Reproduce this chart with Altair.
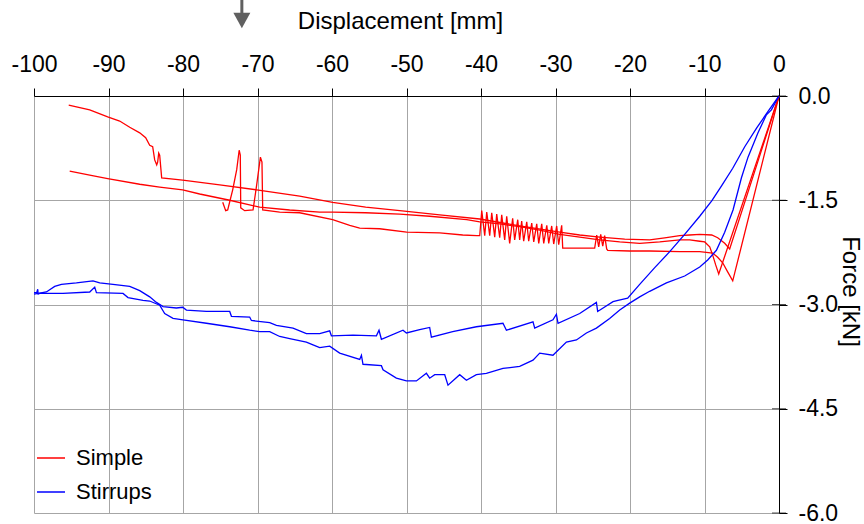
import altair as alt
import pandas as pd

# ---- Simple specimens: displacement [mm] and force [kN] ----
simple_a_disp = [0, -6.62, -7.29, -8.23, -9.03, -10.64, -11.99, -13.33, -15.34, -17.36, -20.71,
                 -24.07, -26.75, -29.44, -34.81, -40.17, -45.54, -50.91, -55.48, -59.91, -64.34,
                 -70.11, -75.07, -80.04, -82.86, -83.13, -83.26, -83.40, -83.53, -83.80, -84.07,
                 -84.47, -85.01, -85.81, -87.15, -88.50, -90.11, -92.52, -95.34]
simple_a_force = [0, -2.20, -2.12, -2.04, -2.00, -1.99, -2.00, -2.01, -2.04, -2.07, -2.06,
                  -2.03, -2.00, -1.96, -1.87, -1.77, -1.71, -1.65, -1.60, -1.53, -1.44,
                  -1.35, -1.28, -1.21, -1.18, -0.85, -0.82, -0.95, -0.99, -0.92, -0.73,
                  -0.71, -0.60, -0.53, -0.45, -0.36, -0.30, -0.20, -0.13]

simple_b_disp = [0, -8.09, -8.50, -8.90, -9.30, -9.97, -10.64, -11.99, -13.33, -16.01, -18.70,
                 -21.38, -24.07, -26.75, -29.44, -32.12, -34.81, -37.49, -40.17, -41.92, -46.89,
                 -50.91, -55.48, -59.91, -61.65, -65.68, -69.71, -73.73, -77.76, -80.04, -83.13,
                 -85.81, -90.11, -92.52, -95.21]
simple_b_force = [0, -2.56, -2.43, -2.29, -2.17, -2.10, -2.09, -2.07, -2.07, -2.10, -2.12,
                  -2.10, -2.07, -2.03, -1.99, -1.93, -1.88, -1.84, -1.81, -1.78, -1.73,
                  -1.70, -1.68, -1.67, -1.67, -1.64, -1.60, -1.50, -1.41, -1.35, -1.31,
                  -1.27, -1.19, -1.14, -1.08]

simple_c_disp = [0, -6.21, -6.89, -7.56, -8.23, -8.90, -10.64, -13.33, -17.36, -20.05, -22.99,
                 -23.13, -23.40, -23.66, -23.93, -24.20, -24.47, -24.74, -26.75, -29.03,
                 -29.17, -29.57, -29.84, -30.24, -30.51, -30.91, -31.17, -31.58, -31.85, -32.25,
                 -32.52, -32.92, -33.19, -33.60, -33.86, -34.27, -34.54, -34.81, -35.07, -35.48,
                 -35.75, -36.15, -36.55, -36.82, -37.22, -37.49, -37.89, -38.16, -38.56, -38.83,
                 -39.23, -39.50, -39.90, -40.17,
                 -40.58, -42.45, -45.54, -49.97, -53.60, -56.28, -57.62, -59.91, -64.34, -67.02,
                 -69.30, -69.40, -69.61, -70.11, -70.60, -71.72, -72.25, -72.31, -72.46, -72.79,
                 -73.33, -74.00, -74.27, -74.67]
simple_c_force = [0, -2.66, -2.53, -2.40, -2.32, -2.26, -2.24, -2.24, -2.23, -2.23, -2.22,
                  -2.20, -2.01, -2.16, -1.99, -2.17, -2.00, -2.19, -2.19, -2.19,
                  -1.86, -2.14, -1.87, -2.13, -1.87, -2.12, -1.86, -2.12, -1.84, -2.12,
                  -1.84, -2.10, -1.83, -2.09, -1.81, -2.09, -1.80, -2.07, -1.78, -2.07,
                  -1.76, -2.12, -1.73, -2.07, -1.71, -2.04, -1.70, -2.03, -1.68, -2.01,
                  -1.67, -2.01, -1.65, -2.01,
                  -2.01, -2.00, -1.97, -1.96, -1.91, -1.90, -1.86, -1.78, -1.68, -1.67,
                  -1.64, -0.95, -0.88, -1.28, -1.64, -1.65, -1.61, -0.85, -0.78, -1.06,
                  -1.35, -1.64, -1.65, -1.53]

# ---- Stirrups specimens ----
stirrups_a_disp = [0, -1.52, -2.99, -4.60, -6.21, -7.69, -9.03, -10.64, -12.66, -14.67, -16.68,
                   -18.70, -20.31, -21.61, -22.28, -24.34, -24.51, -26.75, -29.66, -29.88, -30.34,
                   -32.79, -33.02, -36.59, -37.05, -40.62, -43.80, -46.66, -46.89, -48.23, -50.01,
                   -50.47, -53.37, -53.69, -54.04, -57.18, -60.08, -60.31, -61.65, -63.44, -65.23,
                   -67.46, -68.36, -70.82, -71.05, -73.50, -73.73, -76.86, -79.54, -80.04, -80.89,
                   -82.68, -83.57, -84.47, -85.81, -87.15, -89.40, -91.18, -92.08, -94.31, -96.32,
                   -97.22, -98.34, -100.0]
stirrups_a_force = [0, -0.23, -0.46, -0.73, -1.04, -1.29, -1.51, -1.73, -1.99, -2.24, -2.47,
                    -2.71, -2.91, -2.94, -2.96, -3.10, -2.97, -3.13, -3.27, -3.14, -3.22,
                    -3.34, -3.25, -3.37, -3.27, -3.32, -3.39, -3.47, -3.33, -3.36, -3.41,
                    -3.37, -3.50, -3.37, -3.45, -3.44, -3.45, -3.38, -3.42, -3.42, -3.34,
                    -3.30, -3.26, -3.23, -3.18, -3.17, -3.10, -3.10, -3.08, -3.04, -3.05,
                    -3.03, -2.97, -2.89, -2.80, -2.74, -2.71, -2.69, -2.66, -2.69, -2.71,
                    -2.74, -2.82, -2.85]

stirrups_b_disp = [0, -1.02, -1.69, -2.82, -4.16, -5.05, -6.17, -7.29, -8.40, -9.57, -10.64,
                   -12.66, -15.11, -17.36, -18.70, -20.04, -21.38, -22.73, -24.51, -25.85, -27.19,
                   -28.54, -30.34, -32.12, -33.02, -34.81, -37.05, -39.28, -40.62, -41.96, -42.86,
                   -44.43, -44.87, -46.21, -46.89, -47.33, -48.67, -50.01, -51.36, -53.15, -53.37,
                   -55.84, -56.05, -56.28, -58.97, -60.31, -61.65, -62.55, -63.44, -65.68, -67.02,
                   -68.36, -69.71, -71.05, -73.73, -76.86, -80.00, -81.34, -82.46, -83.13, -84.47,
                   -85.37, -87.38, -88.05, -91.62, -91.85, -92.52, -96.11, -99.24, -99.44, -99.50,
                   -99.64, -100.0]
stirrups_b_force = [0, -0.20, -0.27, -0.53, -0.88, -1.18, -1.64, -1.96, -2.22, -2.36, -2.46,
                    -2.59, -2.69, -2.81, -2.89, -2.98, -3.08, -3.20, -3.34, -3.41, -3.51,
                    -3.54, -3.73, -3.70, -3.80, -3.89, -3.92, -3.99, -4.01, -4.09, -4.01,
                    -4.16, -4.01, -4.01, -4.06, -3.99, -4.10, -4.10, -4.06, -3.94, -3.88,
                    -3.86, -3.73, -3.79, -3.70, -3.60, -3.62, -3.58, -3.54, -3.49, -3.46,
                    -3.39, -3.39, -3.37, -3.32, -3.27, -3.22, -3.20, -3.13, -3.01, -2.95,
                    -2.94, -2.90, -2.84, -2.83, -2.75, -2.82, -2.84, -2.84, -2.85, -2.78,
                    -2.83, -2.83]

series_names = ["Simple", "Stirrups"]
series_colors = ["#ff0000", "#0000ff"]
x_ticks = list(range(-100, 1, 10))
y_ticks = [0.0, -1.5, -3.0, -4.5, -6.0]
arrow_disp = -72.1  # marker above the displacement axis

specimens = [
    ("Simple", "S1", simple_a_disp, simple_a_force),
    ("Simple", "S2", simple_b_disp, simple_b_force),
    ("Simple", "S3", simple_c_disp, simple_c_force),
    ("Stirrups", "T1", stirrups_a_disp, stirrups_a_force),
    ("Stirrups", "T2", stirrups_b_disp, stirrups_b_force),
]
rows = []
for series, spec, xs, fs in specimens:
    assert len(xs) == len(fs), spec
    for i, (x, f) in enumerate(zip(xs, fs)):
        rows.append({"series": series, "specimen": spec, "step": i, "disp": x, "force": f})
df = pd.DataFrame(rows)

FONT = "Liberation Sans"
x_scale = alt.Scale(domain=[-100, 0], nice=False, zero=False)
y_scale = alt.Scale(domain=[-6, 0], nice=False, zero=False)

x_axis = alt.Axis(
    orient="top", values=x_ticks, title="Displacement [mm]",
    labelExpr="datum.value < 0 ? '-' + format(-datum.value, 'd') : '0'",
    labelFont=FONT, labelFontSize=23, labelColor="black", labelPadding=12,
    labelFlush=False, labelOverlap=False,
    tickSize=8, tickColor="black", domainColor="black",
    gridColor="#a6a6a6", gridWidth=1,
    titleFont=FONT, titleFontSize=24, titleFontWeight="normal", titleColor="black",
    titleX=366, titleY=-68, titleAlign="center", titleBaseline="alphabetic",
)
y_axis = alt.Axis(
    orient="right", values=y_ticks, title="Force [kN]",
    labelExpr="datum.value < 0 ? '-' + format(-datum.value, '.1f') : format(datum.value, '.1f')",
    labelFont=FONT, labelFontSize=23, labelColor="black", labelPadding=11,
    labelFlush=False, labelOverlap=False,
    tickSize=8, tickColor="black", domainColor="black",
    gridColor="#a6a6a6", gridWidth=1,
    titleFont=FONT, titleFontSize=24, titleFontWeight="normal", titleColor="black",
    titleAngle=90, titleX=70, titleY=195, titleAlign="center", titleBaseline="middle",
)

lines = alt.Chart(df).mark_line(strokeWidth=1.3).encode(
    x=alt.X("disp:Q", scale=x_scale, axis=x_axis),
    y=alt.Y("force:Q", scale=y_scale, axis=y_axis),
    color=alt.Color(
        "series:N",
        scale=alt.Scale(domain=series_names, range=series_colors),
        legend=alt.Legend(
            title=None, orient="none", legendX=2, legendY=347,
            symbolType="stroke", symbolSize=784, symbolStrokeWidth=1.5,
            labelFont=FONT, labelFontSize=22, labelColor="black", labelOffset=10,
            rowPadding=8,
        ),
    ),
    detail="specimen:N",
    order="step:Q",
)

# ticks crossing the force axis
cross_ticks = alt.Chart(pd.DataFrame({"force": y_ticks})).mark_tick(
    color="black", size=14, thickness=1, orient="horizontal"
).encode(x=alt.datum(0, scale=x_scale), y=alt.Y("force:Q", scale=y_scale))

arrow_df = pd.DataFrame({"disp": [arrow_disp]})
arrow_shaft = alt.Chart(arrow_df).mark_rule(color="#606060", strokeWidth=3).encode(
    x=alt.X("disp:Q", scale=x_scale), y=alt.value(-96), y2=alt.value(-82)
)
arrow_head = alt.Chart(arrow_df).mark_point(
    shape="M-1,-0.9L1,-0.9L0,0.9Z", filled=True, size=289, color="#606060", opacity=1,
    strokeWidth=0,
).encode(x=alt.X("disp:Q", scale=x_scale), y=alt.value(-75.5))

chart = alt.layer(lines, cross_ticks, arrow_shaft, arrow_head).properties(
    width=745, height=417,
    padding={"left": 34, "top": 96, "right": 85, "bottom": 11},
    autosize="none",
    background="white",
).configure_view(stroke=None)

chart.save("out.html", embed_options={"renderer": "svg", "actions": False})
